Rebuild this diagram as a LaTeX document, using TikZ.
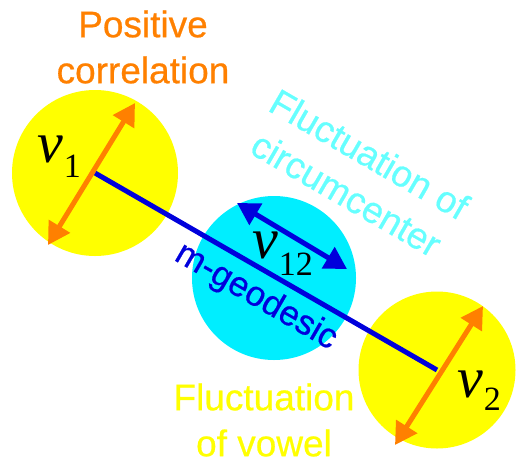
\documentclass[tikz,border=0pt]{standalone}
\usepackage{fontspec}
\setmainfont{Liberation Sans}[FakeBold=0.6]
\newfontfamily\labfont{Liberation Sans}[FakeBold=0.6]
\newfontfamily\timesfont{Liberation Serif}
\usetikzlibrary{arrows.meta}
\definecolor{myorange}{RGB}{255,128,0}
\definecolor{myyellow}{RGB}{255,255,0}
\definecolor{mycyan}{RGB}{0,238,255}
\definecolor{lightcyan}{RGB}{102,255,255}
\definecolor{myblue}{RGB}{0,0,220}
\newcommand{\vlab}[3]{{\timesfont\fontsize{58}{58}\selectfont\itshape v}\kern1pt\raisebox{-#3pt}{\timesfont\fontsize{34}{34}\selectfont #1#2}}
\begin{document}
\begin{tikzpicture}[x=1pt,y=-1pt,
  blob/.style={circle, inner sep=0pt, draw=none, minimum size=#1},
  lbl/.style={font=\labfont\fontsize{37}{46}\selectfont, align=center, inner sep=0pt},
  vlbl/.style={inner sep=0pt, anchor=base west},
  vec/.style={line width=5pt, {Triangle[length=22pt,width=24pt]}-{Triangle[length=22pt,width=24pt]}},
  geo/.style={line width=5pt, myblue}
  ]
\useasboundingbox (0,0) rectangle (518,458);
% circles
\node[blob=166, fill=myyellow] (c1) at (95,173) {};
\node[blob=164, fill=mycyan] (c12) at (274,278) {};
\node[blob=157, fill=myyellow] (c2) at (437,370) {};
% geodesic
\draw[geo] (c1.center) -- (c2.center);
% arrows
\coordinate (o1a) at (48,245);
\coordinate (o1b) at (135,103);
\coordinate (o2a) at (395,445);
\coordinate (o2b) at (483,306);
\coordinate (b1a) at (237,203);
\coordinate (b1b) at (347,269);
\draw[vec, myorange] (o1a) -- (o1b);
\draw[vec, myorange] (o2a) -- (o2b);
\draw[vec, myblue] (b1a) -- (b1b);
% vector labels
\node[vlbl] (v1) at (37,162) {\vlab{1}{}{15}};
\node[vlbl] (v12) at (252,258) {\vlab{1}{2}{17}};
\node[vlbl] (v2) at (457,397) {\vlab{2}{}{13}};
% text labels
\node[lbl, text=myorange] (pc) at (143,47) {Positive\\correlation};
\node[lbl, text=lightcyan, rotate=-30] (fc) at (358,174) {Fluctuation of\\circumcenter};
\node[lbl, text=myblue, rotate=-30, font=\labfont\fontsize{35}{40}\selectfont] (mg) at (256,297) {m-geodesic};
\node[lbl, text=myyellow] (fv) at (264,420) {Fluctuation\\of vowel};
\end{tikzpicture}
\end{document}
